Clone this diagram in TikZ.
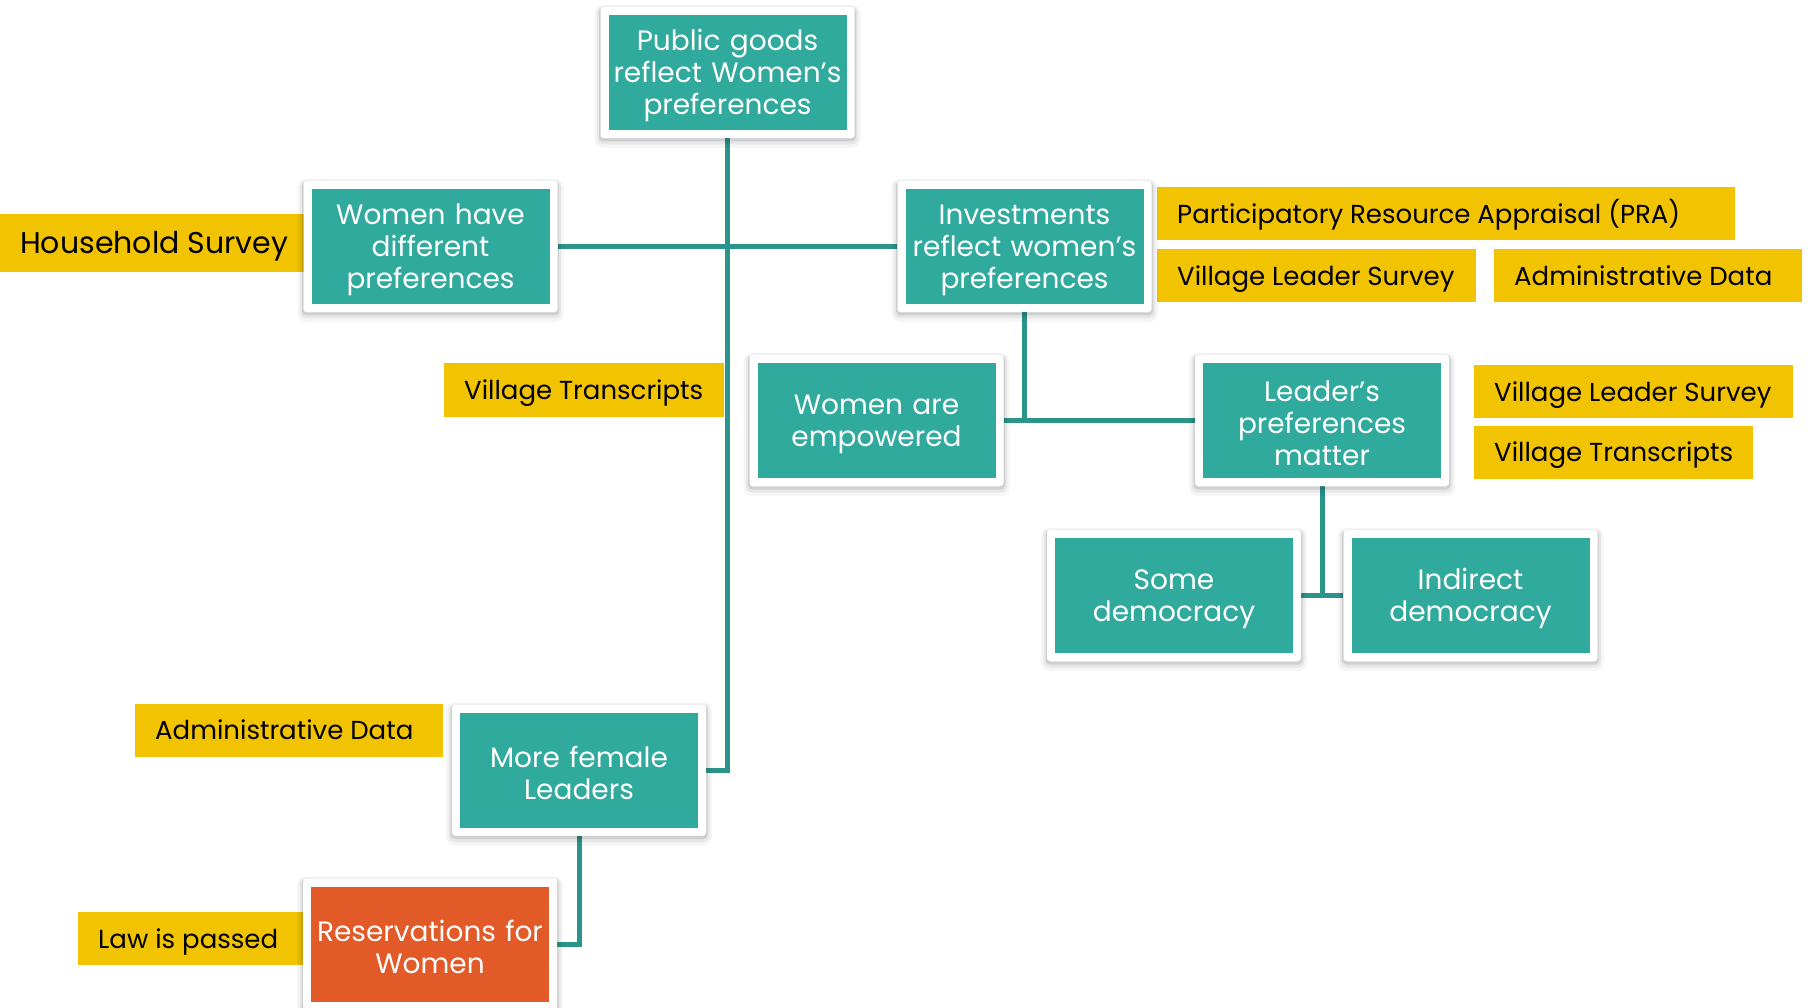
\documentclass[tikz,border=0pt]{standalone}
\usepackage{fontspec}
\setmainfont{Poppins}
\usetikzlibrary{calc}

\definecolor{tealbox}{HTML}{31AA9E}
\definecolor{tealline}{HTML}{2B958B}
\definecolor{orangebox}{HTML}{E25A27}
\definecolor{goldlabel}{HTML}{F2C300}

\pgfdeclarelayer{bg}
\pgfsetlayers{bg,main}

% source label: fixed width, text set flush left without line breaks
\newcommand{\srctext}[2]{\makebox[#1][l]{#2}}

\tikzset{
  softshadow/.style={
    preaction={draw=black, draw opacity=0.04, line width=12pt, transform canvas={yshift=-4pt}},
    preaction={draw=black, draw opacity=0.06, line width=7pt, transform canvas={yshift=-3pt}},
    preaction={draw=black, draw opacity=0.10, line width=3pt, transform canvas={yshift=-2pt}}},
  framebox/.style={fill=white, rounded corners=3pt, minimum width=254pt,
    minimum height=131pt, inner sep=0pt, text width=240pt, align=center,
    text=white, font=\fontsize{28}{32}\selectfont, softshadow,
    execute at begin node={\rule{0pt}{27pt}},
    path picture={\fill[#1, sharp corners]
      ($(path picture bounding box.south west)+(8pt,8pt)$) rectangle
      ($(path picture bounding box.north east)-(8pt,8pt)$);}},
  framebox/.default=tealbox,
  srclabel/.style={fill=goldlabel, anchor=west, inner xsep=20pt, inner ysep=0pt,
    minimum height=53pt, text=black, font=\fontsize{26}{30}\selectfont,
    text height=25.5pt, text depth=6pt},
  conn/.style={draw=tealline, line width=5pt}
}

\begin{document}
\begin{tikzpicture}[x=1pt, y=-1pt]
  \useasboundingbox (0,0) rectangle (1808,1008);

  % boxes of the causal chain
  \node[framebox] (pub)      at (727.5, 72.5) {Public goods\\reflect Women's\\preferences};
  \node[framebox] (women)    at (430.5, 246.5) {Women have\\different\\preferences};
  \node[framebox] (invest)   at (1024.5, 246.5) {Investments\\reflect women's\\preferences};
  \node[framebox] (empow)    at (876.5, 420.5) {Women are\\empowered};
  \node[framebox] (leader)   at (1322, 420.5) {Leader's\\preferences\\matter};
  \node[framebox] (some)     at (1174, 595.5) {Some\\democracy};
  \node[framebox] (indirect) at (1470.5, 595.5) {Indirect\\democracy};
  \node[framebox] (more)     at (579, 770) {More female\\Leaders};
  \node[framebox=orangebox] (resv) at (430, 944) {Reservations for\\Women};

  \begin{pgfonlayer}{bg}
    % data sources
    \node[srclabel, minimum height=58pt, font=\fontsize{30}{34}\selectfont,
          text height=28.5pt, text depth=7pt]
                       (hh)     at (0, 243)      {\srctext{275pt}{Household Survey}};
    \node[srclabel] (pra)    at (1157, 214)   {\srctext{538pt}{Participatory Resource Appraisal (PRA)}};
    \node[srclabel] (vlsA)   at (1157, 276)   {\srctext{279pt}{Village Leader Survey}};
    \node[srclabel] (adminA) at (1494, 275.5) {\srctext{268pt}{Administrative Data}};
    \node[srclabel] (vtA)    at (444, 390)    {\srctext{240pt}{Village Transcripts}};
    \node[srclabel] (vlsB)   at (1474, 391.5) {\srctext{279pt}{Village Leader Survey}};
    \node[srclabel] (vtB)    at (1474, 452)   {\srctext{239pt}{Village Transcripts}};
    \node[srclabel] (adminB) at (135, 730)    {\srctext{268pt}{Administrative Data}};
    \node[srclabel] (law)    at (78, 938.5)   {\srctext{185pt}{Law is passed}};

    % connectors
    \draw[conn] (more.east) -| (pub.south);
    \draw[conn] (women.east) -- (invest.west);
    \draw[conn] (empow.east) -- (leader.west);
    \draw[conn] (invest.south) -- (invest.south |- empow.east);
    \draw[conn] (some.east) -- (indirect.west);
    \draw[conn] (leader.south) -- (leader.south |- some.east);
    \draw[conn] (resv.east) -| (more.south);
  \end{pgfonlayer}
\end{tikzpicture}
\end{document}
